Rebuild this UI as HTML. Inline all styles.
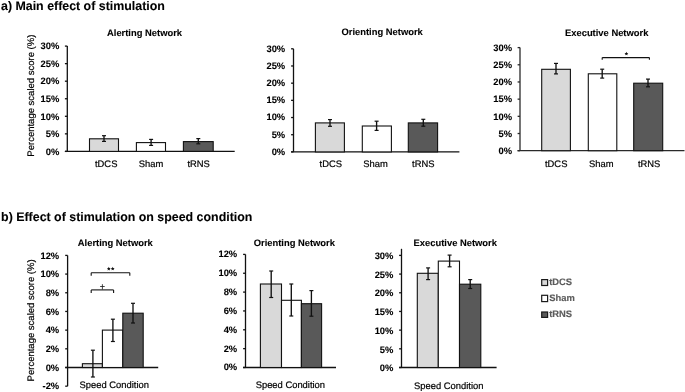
<!DOCTYPE html>
<html><head><meta charset="utf-8"><style>
html,body{margin:0;padding:0;background:#fff;}
svg{display:block;will-change:transform;text-rendering:geometricPrecision;font-family:"Liberation Sans",sans-serif;}
</style></head><body>
<svg width="685" height="392" viewBox="0 0 685 392">
<rect width="685" height="392" fill="#fff"/>
<g >
<text x="1.00" y="9.80" font-size="12.4" font-weight="bold" text-anchor="start" fill="#000" stroke="#000" stroke-width="0.1" >a) Main effect of stimulation</text>
<text x="1.10" y="221.40" font-size="12.4" font-weight="bold" text-anchor="start" fill="#000" stroke="#000" stroke-width="0.1" >b) Effect of stimulation on speed condition</text>
<line x1="67.30" y1="46.10" x2="67.30" y2="151.40" stroke="#111" stroke-width="1.3"/>
<line x1="64.90" y1="46.10" x2="67.30" y2="46.10" stroke="#111" stroke-width="1.3"/>
<text x="59.30" y="49.35" font-size="9.4" font-weight="bold" text-anchor="end" fill="#000" stroke="#000" stroke-width="0.1" >30%</text>
<line x1="64.90" y1="63.65" x2="67.30" y2="63.65" stroke="#111" stroke-width="1.3"/>
<text x="59.30" y="66.90" font-size="9.4" font-weight="bold" text-anchor="end" fill="#000" stroke="#000" stroke-width="0.1" >25%</text>
<line x1="64.90" y1="81.20" x2="67.30" y2="81.20" stroke="#111" stroke-width="1.3"/>
<text x="59.30" y="84.45" font-size="9.4" font-weight="bold" text-anchor="end" fill="#000" stroke="#000" stroke-width="0.1" >20%</text>
<line x1="64.90" y1="98.75" x2="67.30" y2="98.75" stroke="#111" stroke-width="1.3"/>
<text x="59.30" y="102.00" font-size="9.4" font-weight="bold" text-anchor="end" fill="#000" stroke="#000" stroke-width="0.1" >15%</text>
<line x1="64.90" y1="116.30" x2="67.30" y2="116.30" stroke="#111" stroke-width="1.3"/>
<text x="59.30" y="119.55" font-size="9.4" font-weight="bold" text-anchor="end" fill="#000" stroke="#000" stroke-width="0.1" >10%</text>
<line x1="64.90" y1="133.85" x2="67.30" y2="133.85" stroke="#111" stroke-width="1.3"/>
<text x="59.30" y="137.10" font-size="9.4" font-weight="bold" text-anchor="end" fill="#000" stroke="#000" stroke-width="0.1" >5%</text>
<line x1="64.90" y1="151.40" x2="67.30" y2="151.40" stroke="#111" stroke-width="1.3"/>
<text x="59.30" y="154.65" font-size="9.4" font-weight="bold" text-anchor="end" fill="#000" stroke="#000" stroke-width="0.1" >0%</text>
<line x1="64.90" y1="151.40" x2="234.70" y2="151.40" stroke="#111" stroke-width="1.3"/>
<rect x="89.50" y="138.80" width="29.00" height="12.60" fill="#d9d9d9" stroke="#111" stroke-width="1.1"/>
<rect x="136.40" y="142.60" width="29.10" height="8.80" fill="#ffffff" stroke="#111" stroke-width="1.1"/>
<rect x="183.40" y="141.60" width="29.80" height="9.80" fill="#595959" stroke="#111" stroke-width="1.1"/>
<line x1="104.00" y1="135.70" x2="104.00" y2="141.40" stroke="#111" stroke-width="1.35"/>
<line x1="102.00" y1="135.70" x2="106.00" y2="135.70" stroke="#111" stroke-width="1.2"/>
<line x1="102.00" y1="141.40" x2="106.00" y2="141.40" stroke="#111" stroke-width="1.2"/>
<line x1="151.10" y1="139.40" x2="151.10" y2="145.40" stroke="#111" stroke-width="1.35"/>
<line x1="149.10" y1="139.40" x2="153.10" y2="139.40" stroke="#111" stroke-width="1.2"/>
<line x1="149.10" y1="145.40" x2="153.10" y2="145.40" stroke="#111" stroke-width="1.2"/>
<line x1="198.30" y1="138.60" x2="198.30" y2="143.80" stroke="#111" stroke-width="1.35"/>
<line x1="196.30" y1="138.60" x2="200.30" y2="138.60" stroke="#111" stroke-width="1.2"/>
<line x1="196.30" y1="143.80" x2="200.30" y2="143.80" stroke="#111" stroke-width="1.2"/>
<text x="107.00" y="35.80" font-size="9.4" font-weight="bold" text-anchor="start" fill="#000" stroke="#000" stroke-width="0.1" >Alerting Network</text>
<text x="106.20" y="166.80" font-size="9.4" text-anchor="middle" fill="#000" stroke="#000" stroke-width="0.2" >tDCS</text>
<text x="151.10" y="166.80" font-size="9.4" text-anchor="middle" fill="#000" stroke="#000" stroke-width="0.2" >Sham</text>
<text x="198.60" y="166.80" font-size="9.4" text-anchor="middle" fill="#000" stroke="#000" stroke-width="0.2" >tRNS</text>
<text x="0.00" y="0.00" font-size="9.5" text-anchor="middle" fill="#000" stroke="#000" stroke-width="0.2" transform="translate(34.1 95.65) rotate(-90)">Percentage scaled score (%)</text>
<line x1="293.50" y1="48.80" x2="293.50" y2="151.90" stroke="#111" stroke-width="1.3"/>
<line x1="291.10" y1="48.80" x2="293.50" y2="48.80" stroke="#111" stroke-width="1.3"/>
<text x="285.20" y="51.70" font-size="9.4" font-weight="bold" text-anchor="end" fill="#000" stroke="#000" stroke-width="0.1" >30%</text>
<line x1="291.10" y1="65.98" x2="293.50" y2="65.98" stroke="#111" stroke-width="1.3"/>
<text x="285.20" y="68.88" font-size="9.4" font-weight="bold" text-anchor="end" fill="#000" stroke="#000" stroke-width="0.1" >25%</text>
<line x1="291.10" y1="83.17" x2="293.50" y2="83.17" stroke="#111" stroke-width="1.3"/>
<text x="285.20" y="86.07" font-size="9.4" font-weight="bold" text-anchor="end" fill="#000" stroke="#000" stroke-width="0.1" >20%</text>
<line x1="291.10" y1="100.35" x2="293.50" y2="100.35" stroke="#111" stroke-width="1.3"/>
<text x="285.20" y="103.25" font-size="9.4" font-weight="bold" text-anchor="end" fill="#000" stroke="#000" stroke-width="0.1" >15%</text>
<line x1="291.10" y1="117.53" x2="293.50" y2="117.53" stroke="#111" stroke-width="1.3"/>
<text x="285.20" y="120.43" font-size="9.4" font-weight="bold" text-anchor="end" fill="#000" stroke="#000" stroke-width="0.1" >10%</text>
<line x1="291.10" y1="134.72" x2="293.50" y2="134.72" stroke="#111" stroke-width="1.3"/>
<text x="285.20" y="137.62" font-size="9.4" font-weight="bold" text-anchor="end" fill="#000" stroke="#000" stroke-width="0.1" >5%</text>
<line x1="291.10" y1="151.90" x2="293.50" y2="151.90" stroke="#111" stroke-width="1.3"/>
<text x="285.20" y="154.80" font-size="9.4" font-weight="bold" text-anchor="end" fill="#000" stroke="#000" stroke-width="0.1" >0%</text>
<line x1="291.10" y1="151.90" x2="459.40" y2="151.90" stroke="#111" stroke-width="1.3"/>
<rect x="315.40" y="122.90" width="29.00" height="29.00" fill="#d9d9d9" stroke="#111" stroke-width="1.1"/>
<rect x="362.30" y="126.00" width="29.10" height="25.90" fill="#ffffff" stroke="#111" stroke-width="1.1"/>
<rect x="408.30" y="122.90" width="29.30" height="29.00" fill="#595959" stroke="#111" stroke-width="1.1"/>
<line x1="330.00" y1="119.60" x2="330.00" y2="126.30" stroke="#111" stroke-width="1.35"/>
<line x1="328.00" y1="119.60" x2="332.00" y2="119.60" stroke="#111" stroke-width="1.2"/>
<line x1="328.00" y1="126.30" x2="332.00" y2="126.30" stroke="#111" stroke-width="1.2"/>
<line x1="376.60" y1="121.20" x2="376.60" y2="130.40" stroke="#111" stroke-width="1.35"/>
<line x1="374.60" y1="121.20" x2="378.60" y2="121.20" stroke="#111" stroke-width="1.2"/>
<line x1="374.60" y1="130.40" x2="378.60" y2="130.40" stroke="#111" stroke-width="1.2"/>
<line x1="423.30" y1="119.30" x2="423.30" y2="126.20" stroke="#111" stroke-width="1.35"/>
<line x1="421.30" y1="119.30" x2="425.30" y2="119.30" stroke="#111" stroke-width="1.2"/>
<line x1="421.30" y1="126.20" x2="425.30" y2="126.20" stroke="#111" stroke-width="1.2"/>
<text x="341.50" y="35.40" font-size="9.4" font-weight="bold" text-anchor="start" fill="#000" stroke="#000" stroke-width="0.1" >Orienting Network</text>
<text x="330.80" y="166.80" font-size="9.4" text-anchor="middle" fill="#000" stroke="#000" stroke-width="0.2" >tDCS</text>
<text x="375.60" y="166.80" font-size="9.4" text-anchor="middle" fill="#000" stroke="#000" stroke-width="0.2" >Sham</text>
<text x="423.30" y="166.80" font-size="9.4" text-anchor="middle" fill="#000" stroke="#000" stroke-width="0.2" >tRNS</text>
<line x1="520.00" y1="47.60" x2="520.00" y2="150.70" stroke="#2a2a2a" stroke-width="1.3"/>
<line x1="517.60" y1="47.60" x2="520.00" y2="47.60" stroke="#2a2a2a" stroke-width="1.3"/>
<text x="512.10" y="50.80" font-size="9.4" font-weight="bold" text-anchor="end" fill="#000" stroke="#000" stroke-width="0.1" >30%</text>
<line x1="517.60" y1="64.78" x2="520.00" y2="64.78" stroke="#2a2a2a" stroke-width="1.3"/>
<text x="512.10" y="67.98" font-size="9.4" font-weight="bold" text-anchor="end" fill="#000" stroke="#000" stroke-width="0.1" >25%</text>
<line x1="517.60" y1="81.97" x2="520.00" y2="81.97" stroke="#2a2a2a" stroke-width="1.3"/>
<text x="512.10" y="85.17" font-size="9.4" font-weight="bold" text-anchor="end" fill="#000" stroke="#000" stroke-width="0.1" >20%</text>
<line x1="517.60" y1="99.15" x2="520.00" y2="99.15" stroke="#2a2a2a" stroke-width="1.3"/>
<text x="512.10" y="102.35" font-size="9.4" font-weight="bold" text-anchor="end" fill="#000" stroke="#000" stroke-width="0.1" >15%</text>
<line x1="517.60" y1="116.33" x2="520.00" y2="116.33" stroke="#2a2a2a" stroke-width="1.3"/>
<text x="512.10" y="119.53" font-size="9.4" font-weight="bold" text-anchor="end" fill="#000" stroke="#000" stroke-width="0.1" >10%</text>
<line x1="517.60" y1="133.52" x2="520.00" y2="133.52" stroke="#2a2a2a" stroke-width="1.3"/>
<text x="512.10" y="136.72" font-size="9.4" font-weight="bold" text-anchor="end" fill="#000" stroke="#000" stroke-width="0.1" >5%</text>
<line x1="517.60" y1="150.70" x2="520.00" y2="150.70" stroke="#2a2a2a" stroke-width="1.3"/>
<text x="512.10" y="153.90" font-size="9.4" font-weight="bold" text-anchor="end" fill="#000" stroke="#000" stroke-width="0.1" >0%</text>
<line x1="517.60" y1="150.70" x2="684.50" y2="150.70" stroke="#2a2a2a" stroke-width="1.3"/>
<rect x="541.70" y="69.30" width="28.70" height="81.40" fill="#d9d9d9" stroke="#111" stroke-width="1.1"/>
<rect x="588.30" y="73.80" width="28.50" height="76.90" fill="#ffffff" stroke="#111" stroke-width="1.1"/>
<rect x="633.70" y="83.20" width="29.00" height="67.50" fill="#595959" stroke="#111" stroke-width="1.1"/>
<line x1="556.00" y1="63.40" x2="556.00" y2="73.90" stroke="#111" stroke-width="1.35"/>
<line x1="554.00" y1="63.40" x2="558.00" y2="63.40" stroke="#111" stroke-width="1.2"/>
<line x1="554.00" y1="73.90" x2="558.00" y2="73.90" stroke="#111" stroke-width="1.2"/>
<line x1="602.20" y1="69.20" x2="602.20" y2="78.10" stroke="#111" stroke-width="1.35"/>
<line x1="600.20" y1="69.20" x2="604.20" y2="69.20" stroke="#111" stroke-width="1.2"/>
<line x1="600.20" y1="78.10" x2="604.20" y2="78.10" stroke="#111" stroke-width="1.2"/>
<line x1="648.00" y1="79.10" x2="648.00" y2="86.80" stroke="#111" stroke-width="1.35"/>
<line x1="646.00" y1="79.10" x2="650.00" y2="79.10" stroke="#111" stroke-width="1.2"/>
<line x1="646.00" y1="86.80" x2="650.00" y2="86.80" stroke="#111" stroke-width="1.2"/>
<line x1="602.20" y1="57.60" x2="649.40" y2="57.60" stroke="#111" stroke-width="1.1"/>
<line x1="602.20" y1="57.60" x2="602.20" y2="59.80" stroke="#111" stroke-width="1.1"/>
<line x1="649.40" y1="57.60" x2="649.40" y2="59.80" stroke="#111" stroke-width="1.1"/>
<polygon points="626.40,51.70 626.96,52.93 628.30,53.08 627.30,53.99 627.58,55.32 626.40,54.65 625.22,55.32 625.50,53.99 624.50,53.08 625.84,52.93" fill="#111"/>
<text x="565.00" y="35.90" font-size="9.4" font-weight="bold" text-anchor="start" fill="#000" stroke="#000" stroke-width="0.1" >Executive Network</text>
<text x="556.20" y="166.60" font-size="9.4" text-anchor="middle" fill="#000" stroke="#000" stroke-width="0.2" >tDCS</text>
<text x="601.30" y="166.60" font-size="9.4" text-anchor="middle" fill="#000" stroke="#000" stroke-width="0.2" >Sham</text>
<text x="649.10" y="166.60" font-size="9.4" text-anchor="middle" fill="#000" stroke="#000" stroke-width="0.2" >tRNS</text>
<line x1="67.60" y1="255.40" x2="67.60" y2="386.18" stroke="#111" stroke-width="1.3"/>
<line x1="65.20" y1="255.40" x2="67.60" y2="255.40" stroke="#111" stroke-width="1.3"/>
<text x="59.20" y="258.60" font-size="9.4" font-weight="bold" text-anchor="end" fill="#000" stroke="#000" stroke-width="0.1" >12%</text>
<line x1="65.20" y1="274.08" x2="67.60" y2="274.08" stroke="#111" stroke-width="1.3"/>
<text x="59.20" y="277.28" font-size="9.4" font-weight="bold" text-anchor="end" fill="#000" stroke="#000" stroke-width="0.1" >10%</text>
<line x1="65.20" y1="292.77" x2="67.60" y2="292.77" stroke="#111" stroke-width="1.3"/>
<text x="59.20" y="295.97" font-size="9.4" font-weight="bold" text-anchor="end" fill="#000" stroke="#000" stroke-width="0.1" >8%</text>
<line x1="65.20" y1="311.45" x2="67.60" y2="311.45" stroke="#111" stroke-width="1.3"/>
<text x="59.20" y="314.65" font-size="9.4" font-weight="bold" text-anchor="end" fill="#000" stroke="#000" stroke-width="0.1" >6%</text>
<line x1="65.20" y1="330.13" x2="67.60" y2="330.13" stroke="#111" stroke-width="1.3"/>
<text x="59.20" y="333.33" font-size="9.4" font-weight="bold" text-anchor="end" fill="#000" stroke="#000" stroke-width="0.1" >4%</text>
<line x1="65.20" y1="348.82" x2="67.60" y2="348.82" stroke="#111" stroke-width="1.3"/>
<text x="59.20" y="352.02" font-size="9.4" font-weight="bold" text-anchor="end" fill="#000" stroke="#000" stroke-width="0.1" >2%</text>
<line x1="65.20" y1="367.50" x2="67.60" y2="367.50" stroke="#111" stroke-width="1.3"/>
<text x="59.20" y="370.70" font-size="9.4" font-weight="bold" text-anchor="end" fill="#000" stroke="#000" stroke-width="0.1" >0%</text>
<line x1="65.20" y1="386.18" x2="67.60" y2="386.18" stroke="#111" stroke-width="1.3"/>
<text x="59.20" y="389.38" font-size="9.4" font-weight="bold" text-anchor="end" fill="#000" stroke="#000" stroke-width="0.1" >-2%</text>
<line x1="65.20" y1="367.50" x2="158.20" y2="367.50" stroke="#111" stroke-width="1.3"/>
<rect x="82.40" y="363.70" width="20.00" height="3.80" fill="#d9d9d9" stroke="#111" stroke-width="1.1"/>
<rect x="102.40" y="330.10" width="20.40" height="37.40" fill="#ffffff" stroke="#111" stroke-width="1.1"/>
<rect x="122.80" y="313.20" width="20.40" height="54.30" fill="#595959" stroke="#111" stroke-width="1.1"/>
<line x1="92.90" y1="350.20" x2="92.90" y2="377.00" stroke="#111" stroke-width="1.35"/>
<line x1="90.90" y1="350.20" x2="94.90" y2="350.20" stroke="#111" stroke-width="1.2"/>
<line x1="90.90" y1="377.00" x2="94.90" y2="377.00" stroke="#111" stroke-width="1.2"/>
<line x1="112.90" y1="319.20" x2="112.90" y2="341.50" stroke="#111" stroke-width="1.35"/>
<line x1="110.90" y1="319.20" x2="114.90" y2="319.20" stroke="#111" stroke-width="1.2"/>
<line x1="110.90" y1="341.50" x2="114.90" y2="341.50" stroke="#111" stroke-width="1.2"/>
<line x1="133.00" y1="303.30" x2="133.00" y2="323.00" stroke="#111" stroke-width="1.35"/>
<line x1="131.00" y1="303.30" x2="135.00" y2="303.30" stroke="#111" stroke-width="1.2"/>
<line x1="131.00" y1="323.00" x2="135.00" y2="323.00" stroke="#111" stroke-width="1.2"/>
<line x1="91.20" y1="272.80" x2="129.80" y2="272.80" stroke="#111" stroke-width="1.1"/>
<line x1="91.20" y1="272.80" x2="91.20" y2="275.70" stroke="#111" stroke-width="1.1"/>
<line x1="129.80" y1="272.80" x2="129.80" y2="275.70" stroke="#111" stroke-width="1.1"/>
<polygon points="108.80,266.80 109.36,268.03 110.70,268.18 109.70,269.09 109.98,270.42 108.80,269.75 107.62,270.42 107.90,269.09 106.90,268.18 108.24,268.03" fill="#111"/>
<polygon points="112.70,266.70 113.26,267.93 114.60,268.08 113.60,268.99 113.88,270.32 112.70,269.65 111.52,270.32 111.80,268.99 110.80,268.08 112.14,267.93" fill="#111"/>
<line x1="91.20" y1="289.90" x2="113.60" y2="289.90" stroke="#111" stroke-width="1.1"/>
<line x1="91.20" y1="289.90" x2="91.20" y2="292.90" stroke="#111" stroke-width="1.1"/>
<line x1="113.60" y1="289.90" x2="113.60" y2="292.90" stroke="#111" stroke-width="1.1"/>
<line x1="100.10" y1="286.50" x2="104.70" y2="286.50" stroke="#222" stroke-width="0.85"/>
<line x1="102.40" y1="284.20" x2="102.40" y2="289.50" stroke="#222" stroke-width="0.85"/>
<text x="77.80" y="245.50" font-size="9.4" font-weight="bold" text-anchor="start" fill="#000" stroke="#000" stroke-width="0.1" >Alerting Network</text>
<text x="79.60" y="388.20" font-size="9.4" text-anchor="start" fill="#000" stroke="#000" stroke-width="0.2" >Speed Condition</text>
<text x="0.00" y="0.00" font-size="9.5" text-anchor="middle" fill="#000" stroke="#000" stroke-width="0.2" transform="translate(34.1 320.4) rotate(-90)">Percentage scaled score (%)</text>
<line x1="245.50" y1="254.40" x2="245.50" y2="367.50" stroke="#111" stroke-width="1.3"/>
<line x1="243.10" y1="254.40" x2="245.50" y2="254.40" stroke="#111" stroke-width="1.3"/>
<text x="237.20" y="257.30" font-size="9.4" font-weight="bold" text-anchor="end" fill="#000" stroke="#000" stroke-width="0.1" >12%</text>
<line x1="243.10" y1="273.25" x2="245.50" y2="273.25" stroke="#111" stroke-width="1.3"/>
<text x="237.20" y="276.15" font-size="9.4" font-weight="bold" text-anchor="end" fill="#000" stroke="#000" stroke-width="0.1" >10%</text>
<line x1="243.10" y1="292.10" x2="245.50" y2="292.10" stroke="#111" stroke-width="1.3"/>
<text x="237.20" y="295.00" font-size="9.4" font-weight="bold" text-anchor="end" fill="#000" stroke="#000" stroke-width="0.1" >8%</text>
<line x1="243.10" y1="310.95" x2="245.50" y2="310.95" stroke="#111" stroke-width="1.3"/>
<text x="237.20" y="313.85" font-size="9.4" font-weight="bold" text-anchor="end" fill="#000" stroke="#000" stroke-width="0.1" >6%</text>
<line x1="243.10" y1="329.80" x2="245.50" y2="329.80" stroke="#111" stroke-width="1.3"/>
<text x="237.20" y="332.70" font-size="9.4" font-weight="bold" text-anchor="end" fill="#000" stroke="#000" stroke-width="0.1" >4%</text>
<line x1="243.10" y1="348.65" x2="245.50" y2="348.65" stroke="#111" stroke-width="1.3"/>
<text x="237.20" y="351.55" font-size="9.4" font-weight="bold" text-anchor="end" fill="#000" stroke="#000" stroke-width="0.1" >2%</text>
<line x1="243.10" y1="367.50" x2="245.50" y2="367.50" stroke="#111" stroke-width="1.3"/>
<text x="237.20" y="370.40" font-size="9.4" font-weight="bold" text-anchor="end" fill="#000" stroke="#000" stroke-width="0.1" >0%</text>
<line x1="243.10" y1="367.50" x2="336.00" y2="367.50" stroke="#111" stroke-width="1.3"/>
<rect x="260.40" y="284.00" width="21.10" height="83.50" fill="#d9d9d9" stroke="#111" stroke-width="1.1"/>
<rect x="281.50" y="300.30" width="19.90" height="67.20" fill="#ffffff" stroke="#111" stroke-width="1.1"/>
<rect x="301.40" y="303.70" width="20.20" height="63.80" fill="#595959" stroke="#111" stroke-width="1.1"/>
<line x1="271.20" y1="271.00" x2="271.20" y2="297.50" stroke="#111" stroke-width="1.35"/>
<line x1="269.20" y1="271.00" x2="273.20" y2="271.00" stroke="#111" stroke-width="1.2"/>
<line x1="269.20" y1="297.50" x2="273.20" y2="297.50" stroke="#111" stroke-width="1.2"/>
<line x1="291.30" y1="284.00" x2="291.30" y2="316.00" stroke="#111" stroke-width="1.35"/>
<line x1="289.30" y1="284.00" x2="293.30" y2="284.00" stroke="#111" stroke-width="1.2"/>
<line x1="289.30" y1="316.00" x2="293.30" y2="316.00" stroke="#111" stroke-width="1.2"/>
<line x1="311.40" y1="290.60" x2="311.40" y2="316.20" stroke="#111" stroke-width="1.35"/>
<line x1="309.40" y1="290.60" x2="313.40" y2="290.60" stroke="#111" stroke-width="1.2"/>
<line x1="309.40" y1="316.20" x2="313.40" y2="316.20" stroke="#111" stroke-width="1.2"/>
<text x="253.70" y="246.00" font-size="9.4" font-weight="bold" text-anchor="start" fill="#000" stroke="#000" stroke-width="0.1" >Orienting Network</text>
<text x="255.70" y="388.10" font-size="9.4" text-anchor="start" fill="#000" stroke="#000" stroke-width="0.2" >Speed Condition</text>
<line x1="401.50" y1="248.80" x2="401.50" y2="367.50" stroke="#111" stroke-width="1.3"/>
<line x1="399.10" y1="255.40" x2="401.50" y2="255.40" stroke="#111" stroke-width="1.3"/>
<text x="393.40" y="259.10" font-size="9.4" font-weight="bold" text-anchor="end" fill="#000" stroke="#000" stroke-width="0.1" >30%</text>
<line x1="399.10" y1="274.08" x2="401.50" y2="274.08" stroke="#111" stroke-width="1.3"/>
<text x="393.40" y="277.78" font-size="9.4" font-weight="bold" text-anchor="end" fill="#000" stroke="#000" stroke-width="0.1" >25%</text>
<line x1="399.10" y1="292.77" x2="401.50" y2="292.77" stroke="#111" stroke-width="1.3"/>
<text x="393.40" y="296.47" font-size="9.4" font-weight="bold" text-anchor="end" fill="#000" stroke="#000" stroke-width="0.1" >20%</text>
<line x1="399.10" y1="311.45" x2="401.50" y2="311.45" stroke="#111" stroke-width="1.3"/>
<text x="393.40" y="315.15" font-size="9.4" font-weight="bold" text-anchor="end" fill="#000" stroke="#000" stroke-width="0.1" >15%</text>
<line x1="399.10" y1="330.13" x2="401.50" y2="330.13" stroke="#111" stroke-width="1.3"/>
<text x="393.40" y="333.83" font-size="9.4" font-weight="bold" text-anchor="end" fill="#000" stroke="#000" stroke-width="0.1" >10%</text>
<line x1="399.10" y1="348.82" x2="401.50" y2="348.82" stroke="#111" stroke-width="1.3"/>
<text x="393.40" y="352.52" font-size="9.4" font-weight="bold" text-anchor="end" fill="#000" stroke="#000" stroke-width="0.1" >5%</text>
<line x1="399.10" y1="367.50" x2="401.50" y2="367.50" stroke="#111" stroke-width="1.3"/>
<text x="393.40" y="371.20" font-size="9.4" font-weight="bold" text-anchor="end" fill="#000" stroke="#000" stroke-width="0.1" >0%</text>
<line x1="399.10" y1="367.50" x2="496.60" y2="367.50" stroke="#111" stroke-width="1.3"/>
<rect x="417.30" y="273.30" width="21.00" height="94.20" fill="#d9d9d9" stroke="#111" stroke-width="1.1"/>
<rect x="438.30" y="261.10" width="21.20" height="106.40" fill="#ffffff" stroke="#111" stroke-width="1.1"/>
<rect x="459.50" y="284.20" width="21.30" height="83.30" fill="#595959" stroke="#111" stroke-width="1.1"/>
<line x1="428.10" y1="267.90" x2="428.10" y2="279.60" stroke="#111" stroke-width="1.35"/>
<line x1="426.10" y1="267.90" x2="430.10" y2="267.90" stroke="#111" stroke-width="1.2"/>
<line x1="426.10" y1="279.60" x2="430.10" y2="279.60" stroke="#111" stroke-width="1.2"/>
<line x1="449.60" y1="255.10" x2="449.60" y2="266.80" stroke="#111" stroke-width="1.35"/>
<line x1="447.60" y1="255.10" x2="451.60" y2="255.10" stroke="#111" stroke-width="1.2"/>
<line x1="447.60" y1="266.80" x2="451.60" y2="266.80" stroke="#111" stroke-width="1.2"/>
<line x1="470.20" y1="279.60" x2="470.20" y2="288.50" stroke="#111" stroke-width="1.35"/>
<line x1="468.20" y1="279.60" x2="472.20" y2="279.60" stroke="#111" stroke-width="1.2"/>
<line x1="468.20" y1="288.50" x2="472.20" y2="288.50" stroke="#111" stroke-width="1.2"/>
<text x="413.60" y="246.00" font-size="9.4" font-weight="bold" text-anchor="start" fill="#000" stroke="#000" stroke-width="0.1" >Executive Network</text>
<text x="414.10" y="388.60" font-size="9.4" text-anchor="start" fill="#000" stroke="#000" stroke-width="0.2" >Speed Condition</text>
<rect x="541.7" y="279.6" width="5.9" height="5.9" fill="#d9d9d9" stroke="#1a1a1a" stroke-width="1.2"/>
<text x="549.20" y="285.20" font-size="9.4" font-weight="bold" text-anchor="start" fill="#5c5c5c" stroke="#5c5c5c" stroke-width="0.15" >tDCS</text>
<rect x="541.7" y="295.3" width="5.9" height="6.3" fill="#ffffff" stroke="#1a1a1a" stroke-width="1.2"/>
<text x="549.20" y="301.40" font-size="9.4" font-weight="bold" text-anchor="start" fill="#5c5c5c" stroke="#5c5c5c" stroke-width="0.15" >Sham</text>
<rect x="541.7" y="312.0" width="5.9" height="5.4" fill="#595959" stroke="#1a1a1a" stroke-width="1.2"/>
<text x="549.20" y="316.90" font-size="9.4" font-weight="bold" text-anchor="start" fill="#5c5c5c" stroke="#5c5c5c" stroke-width="0.15" >tRNS</text>
</g>
</svg>
</body></html>
